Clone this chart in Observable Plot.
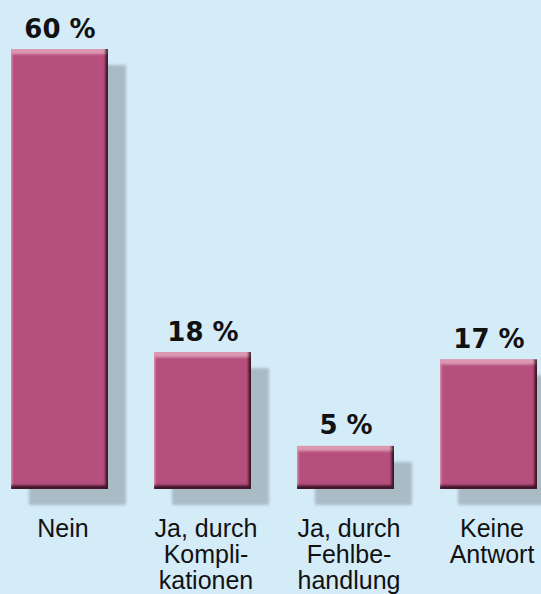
<!DOCTYPE html>
<html>
<head>
<meta charset="utf-8">
<script src="https://cdn.jsdelivr.net/npm/d3@7"></script>
<script src="https://cdn.jsdelivr.net/npm/@observablehq/plot@0.6"></script>
<style>
  html, body { margin: 0; padding: 0; background: #d4ebf8; }
  #chart svg { display: block; }
</style>
</head>
<body>
<div id="chart"></div>
<script>
const categories = ["Nein", "Ja, durch\nKompli-\nkationen", "Ja, durch\nFehlbe-\nhandlung", "Keine\nAntwort"];
const values = [60, 18, 5, 17];
const valueLabels = ["60 %", "18 %", "5 %", "17 %"];

const data = categories.map((c, i) => ({cat: c, value: values[i], label: valueLabels[i]}));

const chart = Plot.plot({
  width: 541,
  height: 594,
  marginLeft: 10,
  marginRight: 3,
  marginTop: 49,
  marginBottom: 112,
  style: {background: "#d4ebf8", overflow: "visible"},
  x: {domain: categories, paddingInner: 0.325, paddingOuter: 0, axis: null},
  y: {domain: [0, 60], axis: null},
  marks: [
    Plot.barY(data, {x: "cat", y: "value", fill: "#a9bcc6", dx: 18, dy: 16, insetBottom: -7}),
    Plot.barY(data, {x: "cat", y: "value", fill: "#b6507d", insetBottom: -7}),
    Plot.text(data, {x: "cat", y: "value", text: "label", dy: -12, lineAnchor: "bottom",
      fontSize: 26, fontWeight: "bold", fontFamily: "'DejaVu Sans', sans-serif", fill: "#111"}),
    Plot.text(data, {x: "cat", text: "cat", frameAnchor: "bottom", lineAnchor: "top", dy: 36, dx: 3,
      fontSize: 25, lineHeight: 1.04, fontFamily: "'Liberation Sans', Arial, sans-serif", fill: "#111"})
  ]
});

const defs = d3.select(chart).insert("defs", ":first-child");
defs.html(`
  <filter id="shadowBlur" x="-20%" y="-20%" width="140%" height="140%">
    <feGaussianBlur stdDeviation="1.6"/>
  </filter>
  <filter id="bevel" x="-5%" y="-5%" width="110%" height="110%">
    <feGaussianBlur in="SourceAlpha" stdDeviation="1.2" result="b"/>
    <feOffset in="b" dx="-3" dy="-4" result="o1"/>
    <feComposite in="SourceAlpha" in2="o1" operator="out" result="e1"/>
    <feFlood flood-color="#1c0510" flood-opacity="0.9"/>
    <feComposite in2="e1" operator="in" result="dark"/>
    <feOffset in="b" dx="1" dy="5" result="o2"/>
    <feComposite in="SourceAlpha" in2="o2" operator="out" result="e2"/>
    <feFlood flood-color="#f2b6cc" flood-opacity="0.6"/>
    <feComposite in2="e2" operator="in" result="light"/>
    <feMerge><feMergeNode in="SourceGraphic"/><feMergeNode in="light"/><feMergeNode in="dark"/></feMerge>
  </filter>
`);
const barGroups = d3.select(chart).selectAll('g[aria-label="bar"]').nodes();
if (barGroups[0]) d3.select(barGroups[0]).selectAll("rect").attr("filter", "url(#shadowBlur)");
if (barGroups[1]) d3.select(barGroups[1]).selectAll("rect").attr("filter", "url(#bevel)");

document.getElementById("chart").appendChild(chart);
</script>
</body>
</html>
